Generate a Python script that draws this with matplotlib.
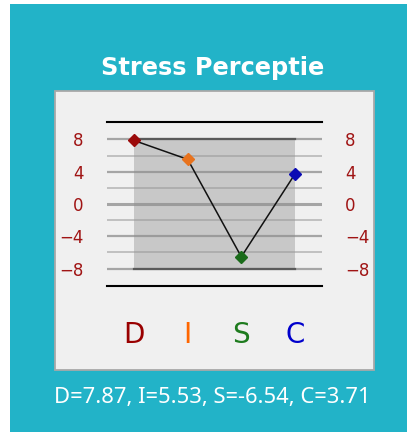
import matplotlib
matplotlib.use("Agg")
import matplotlib.pyplot as plt
from matplotlib.patches import Rectangle
import matplotlib.transforms as mtransforms

categories = ["D", "I", "S", "C"]
values = [7.87, 5.53, -6.54, 3.71]
point_colors = ["#9B0A0A", "#E8731E", "#1A6B1A", "#0A0AB4"]
letter_colors = ["#990000", "#FF6600", "#1E7B1E", "#0000CC"]
tick_values = [-8, -4, 0, 4, 8]
minor_values = [-6, -2, 2, 6]
title = "Stress Perceptie"
summary = "D=7.87, I=5.53, S=-6.54, C=3.71"

W, H = 407, 432
fig = plt.figure(figsize=(W / 100, H / 100), dpi=100)
fig.patch.set_facecolor("white")

def fx(px):
    return px / W

def fy(py):
    return 1 - py / H

# teal background
fig.patches.append(Rectangle((fx(10), 0), 1 - fx(10), fy(4), transform=fig.transFigure,
                             facecolor="#22B3C8", edgecolor="none", zorder=0))
# inner panel
fig.patches.append(Rectangle((fx(55), fy(370)), fx(374) - fx(55), fy(91) - fy(370),
                             transform=fig.transFigure, facecolor="#F0F0F0",
                             edgecolor="#A8A8A8", linewidth=1.3, zorder=1))

ax_left, ax_right, ax_top, ax_bot = 107.3, 321.7, 121.7, 286.3
ax = fig.add_axes([fx(ax_left), fy(ax_bot), fx(ax_right) - fx(ax_left), fy(ax_top) - fy(ax_bot)])
ax.set_zorder(5)
ax.set_facecolor("none")
ax.set_xlim(-0.5, len(categories) - 0.5)
ax.set_ylim(-10.2, 10.2)

x = list(range(len(categories)))
# shaded band between first and last category
ax.add_patch(Rectangle((x[0], tick_values[0]), x[-1] - x[0], tick_values[-1] - tick_values[0],
                       facecolor="#C8C8C8", edgecolor="none", zorder=1))

for v in minor_values:
    ax.axhline(v, color="#9A9A9A", alpha=0.6, linewidth=1.3, zorder=2)
for v in tick_values:
    lw = 2.2 if v == 0 else 1.6
    ax.axhline(v, color="#8C8C8C", alpha=0.75, linewidth=lw, zorder=2)
for v in (tick_values[0], tick_values[-1]):
    ax.plot([x[0], x[-1]], [v, v], color="#5A5A5A", linewidth=1.6, zorder=2.5)

ax.plot(x, values, color="#111111", linewidth=1.1, zorder=3)
for xi, v, c in zip(x, values, point_colors):
    ax.plot([xi], [v], marker="D", markersize=6.5, color=c, markeredgecolor=c, zorder=4)

for s in ("left", "right"):
    ax.spines[s].set_visible(False)
for s in ("top", "bottom"):
    ax.spines[s].set_color("black")
    ax.spines[s].set_linewidth(1.5)

ax.set_xticks([])
ax.set_yticks(tick_values)
ax.set_yticklabels([f"{v}".replace("-", "\u2212") for v in tick_values])
ax.tick_params(axis="y", length=0, pad=17, labelsize=12, labelcolor="#A01414",
               labelleft=True, labelright=True)

trans = mtransforms.blended_transform_factory(ax.transData, fig.transFigure)
for xi, cat, c in zip(x, categories, letter_colors):
    ax.text(xi, fy(335), cat, transform=trans, ha="center", va="center",
            fontsize=20, color=c, clip_on=False)

fig.text(fx(212.5), fy(75.5), title, ha="center", va="baseline", fontsize=17.3,
         fontweight="bold", color="white", family="DejaVu Sans")
fig.text(fx(212), fy(402.5), summary, ha="center", va="baseline", fontsize=15.8,
         color="white", family="Noto Sans")

fig.savefig("out.png", dpi=100, facecolor=fig.get_facecolor())
